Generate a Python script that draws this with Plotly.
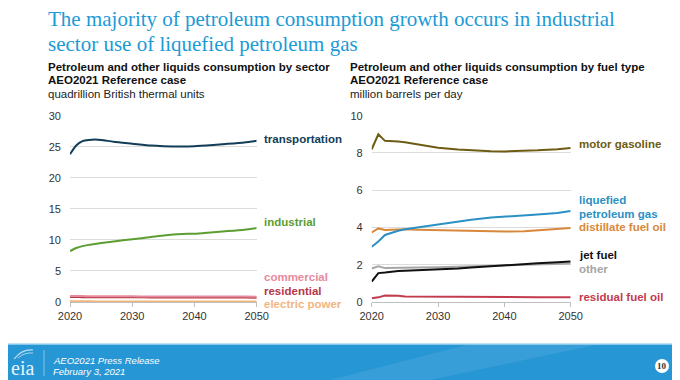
import plotly.graph_objects as go

# ---------------- data ----------------
years_sector = [2020, 2021, 2022, 2023, 2024, 2025, 2027, 2030, 2033, 2035, 2038, 2040, 2043, 2045, 2048, 2050]
transportation = [23.8, 25.2, 25.9, 26.1, 26.15, 26.1, 25.8, 25.5, 25.2, 25.1, 25.05, 25.1, 25.3, 25.45, 25.7, 25.95]
industrial = [8.2, 8.7, 9.0, 9.2, 9.35, 9.5, 9.75, 10.1, 10.45, 10.7, 10.95, 11.0, 11.25, 11.4, 11.65, 11.9]
commercial = [0.95, 0.95, 0.95, 0.94, 0.93, 0.92, 0.92, 0.91, 0.9, 0.9, 0.89, 0.88, 0.88, 0.87, 0.87, 0.86]
residential = [0.8, 0.79, 0.78, 0.78, 0.77, 0.77, 0.76, 0.75, 0.74, 0.74, 0.73, 0.72, 0.72, 0.71, 0.71, 0.7]
electric_power = [0.12, 0.12, 0.11, 0.11, 0.1, 0.1, 0.1, 0.09, 0.09, 0.09, 0.08, 0.08, 0.08, 0.08, 0.07, 0.07]

years_fuel = [2020, 2021, 2022, 2023, 2024, 2025, 2027, 2030, 2033, 2035, 2038, 2040, 2043, 2045, 2048, 2050]
motor_gasoline = [8.2, 9.0, 8.65, 8.65, 8.62, 8.58, 8.45, 8.28, 8.18, 8.13, 8.09, 8.08, 8.1, 8.14, 8.2, 8.26]
lpg = [2.97, 3.25, 3.6, 3.72, 3.82, 3.9, 4.0, 4.18, 4.33, 4.42, 4.53, 4.57, 4.65, 4.7, 4.78, 4.88]
distillate = [3.73, 3.95, 3.87, 3.88, 3.9, 3.9, 3.88, 3.85, 3.82, 3.8, 3.78, 3.78, 3.8, 3.84, 3.9, 3.97]
jet_fuel = [1.1, 1.55, 1.58, 1.63, 1.66, 1.68, 1.7, 1.73, 1.8, 1.85, 1.93, 1.97, 2.04, 2.08, 2.14, 2.18]
other = [1.8, 1.92, 1.82, 1.82, 1.83, 1.83, 1.85, 1.87, 1.9, 1.92, 1.95, 1.98, 2.01, 2.03, 2.05, 2.07]
residual = [0.2, 0.25, 0.35, 0.36, 0.34, 0.3, 0.3, 0.3, 0.29, 0.28, 0.27, 0.27, 0.26, 0.26, 0.25, 0.25]

x_ticks = [2020, 2030, 2040, 2050]
y_ticks_sector = [0, 5, 10, 15, 20, 25, 30]
y_ticks_fuel = [0, 2, 4, 6, 8, 10]

sector_series = [
    ("electric power", electric_power, "#f2b57e"),
    ("residential", residential, "#b8364a"),
    ("commercial", commercial, "#e68a9c"),
    ("industrial", industrial, "#5c9e32"),
    ("transportation", transportation, "#123d57"),
]
fuel_series = [
    ("residual fuel oil", residual, "#c23b4e"),
    ("other", other, "#a6a6a6"),
    ("jet fuel", jet_fuel, "#111111"),
    ("distillate fuel oil", distillate, "#d8883a"),
    ("liquefied<br>petroleum gas", lpg, "#2b90c3"),
    ("motor gasoline", motor_gasoline, "#6e5c12"),
]

# The page body has an 8px margin, so the figure is sized to fill the
# rest of the 680x380 window and positions are given in window pixels.
OFF = 8
W, H = 680 - OFF, 380 - OFF
def px(x):
    return (x - OFF) / W
def py(y):
    return 1 - (y - OFF) / H

fig = go.Figure()
for name, vals, col in sector_series:
    fig.add_trace(go.Scatter(x=years_sector, y=vals, mode="lines", name=name,
                             line=dict(color=col, width=2, shape="spline", smoothing=0.6),
                             xaxis="x", yaxis="y", showlegend=False, hoverinfo="skip"))
for name, vals, col in fuel_series:
    fig.add_trace(go.Scatter(x=years_fuel, y=vals, mode="lines", name=name,
                             line=dict(color=col, width=2),
                             xaxis="x2", yaxis="y2", showlegend=False, hoverinfo="skip"))

tickfont = dict(family="Arial, Liberation Sans, sans-serif", size=11, color="#333333")
xa = dict(range=[2020, 2050], tickvals=x_ticks, showgrid=False, zeroline=False,
          showline=True, linecolor="#bfbfbf", linewidth=1, ticks="outside", ticklen=4,
          tickcolor="#bfbfbf", tickfont=tickfont, fixedrange=True, automargin=False)
ya = dict(showgrid=True, gridcolor="#dcdcdc", gridwidth=1, zeroline=False, showline=False,
          ticks="", tickfont=tickfont, ticklabelstandoff=8, fixedrange=True, automargin=False)

fig.update_layout(
    width=W, height=H, margin=dict(l=0, r=0, t=0, b=0, pad=0, autoexpand=False),
    paper_bgcolor="white", plot_bgcolor="white",
    xaxis=dict(xa, domain=[px(70), px(256.7)], anchor="y"),
    yaxis=dict(ya, domain=[py(302), py(115.7)], range=[0, 30], tickvals=y_ticks_sector, anchor="x"),
    xaxis2=dict(xa, domain=[px(371.7), px(570.7)], anchor="y2"),
    yaxis2=dict(ya, domain=[py(302), py(115.7)], range=[0, 10], tickvals=y_ticks_fuel, anchor="x2"),
)

ann = []
serif = "Liberation Serif, Times New Roman, serif"
sans = "Arial, Liberation Sans, sans-serif"
ann.append(dict(text="The majority of petroleum consumption growth occurs in industrial",
                x=px(46), y=py(19), xanchor="left", yanchor="middle",
                font=dict(family=serif, size=21, color="#1c9ad6")))
ann.append(dict(text="sector use of liquefied petroleum gas",
                x=px(46), y=py(44), xanchor="left", yanchor="middle",
                font=dict(family=serif, size=21, color="#1c9ad6")))
for xx, t1 in [(46, "Petroleum and other liquids consumption by sector"),
               (348, "Petroleum and other liquids consumption by fuel type")]:
    ann.append(dict(text="<b>" + t1 + "</b>", x=px(xx), y=py(67), xanchor="left", yanchor="middle",
                    font=dict(family=sans, size=11.5, color="#111111")))
    ann.append(dict(text="<b>AEO2021 Reference case</b>", x=px(xx), y=py(80.5), xanchor="left",
                    yanchor="middle", font=dict(family=sans, size=11.5, color="#111111")))
ann.append(dict(text="quadrillion British thermal units", x=px(46), y=py(94), xanchor="left",
                yanchor="middle", font=dict(family=sans, size=11.5, color="#222222")))
ann.append(dict(text="million barrels per day", x=px(348), y=py(94), xanchor="left",
                yanchor="middle", font=dict(family=sans, size=11.5, color="#222222")))

left_labels = [("transportation", 139, "#123d57"), ("industrial", 221.7, "#5c9e32"),
               ("commercial", 276.7, "#e68a9c"), ("residential", 291, "#b8364a"),
               ("electric power", 304.3, "#f2b57e")]
for t, yy, col in left_labels:
    ann.append(dict(text="<b>" + t + "</b>", x=px(262), y=py(yy), xanchor="left", yanchor="middle",
                    font=dict(family=sans, size=11.5, color=col)))
right_labels = [("motor gasoline", 144, "#6e5c12"), ("liquefied", 200, "#2b90c3"),
                ("petroleum gas", 214, "#2b90c3"), ("distillate fuel oil", 227.3, "#d8883a"),
                ("jet fuel", 255, "#111111"), ("other", 269, "#a6a6a6"),
                ("residual fuel oil", 296.7, "#c23b4e")]
for t, yy, col in right_labels:
    ann.append(dict(text="<b>" + t + "</b>", x=px(577), y=py(yy), xanchor="left", yanchor="middle",
                    font=dict(family=sans, size=11.5, color=col)))

# footer
ann.append(dict(text="<i>AEO2021 Press Release</i>", x=px(51), y=py(360.5), xanchor="left",
                yanchor="middle", font=dict(family=sans, size=9.5, color="white")))
ann.append(dict(text="<i>February 3, 2021</i>", x=px(51), y=py(371.5), xanchor="left",
                yanchor="middle", font=dict(family=sans, size=9.5, color="white")))
ann.append(dict(text="eia", x=px(22), y=py(368), xanchor="center", yanchor="middle",
                font=dict(family=serif, size=20, color="#e8f4fb")))
ann.append(dict(text="<b>10</b>", x=px(662), y=py(366), xanchor="center", yanchor="middle",
                font=dict(family=serif, size=9, color="#333333")))
for a in ann:
    a.update(xref="paper", yref="paper", showarrow=False)
fig.update_layout(annotations=ann)

shapes = [
    dict(type="rect", x0=0, x1=1, y0=0, y1=py(344), fillcolor="#2796d5", line=dict(width=0)),
    dict(type="path", path="M {} {} L {} {} L {} {} L {} {} Z".format(px(330), py(380), px(470), py(344), px(600), py(344), px(430), py(380)),
         fillcolor="rgba(255,255,255,0.08)", line=dict(width=0)),
    dict(type="line", x0=0, x1=1, y0=py(344), y1=py(344), line=dict(color="#a9d7f1", width=1.5)),
    dict(type="line", x0=px(44), x1=px(44), y0=py(350), y1=py(376), line=dict(color="rgba(255,255,255,0.45)", width=1)),
    dict(type="path", path="M {} {} Q {} {} {} {}".format(px(14), py(359), px(22), py(349), px(33), py(350)),
         line=dict(color="rgba(255,255,255,0.7)", width=1.2)),
    dict(type="path", path="M {} {} Q {} {} {} {}".format(px(18), py(358), px(25), py(352), px(33), py(353)),
         line=dict(color="rgba(255,255,255,0.6)", width=1)),
    dict(type="circle", x0=px(655), x1=px(669), y0=py(373), y1=py(359), fillcolor="white",
         line=dict(color="white", width=0)),
]
for s in shapes:
    s.update(xref="paper", yref="paper", layer="below" if s["type"] == "rect" else "above")
fig.update_layout(shapes=shapes)

fig.write_html("out.html")
